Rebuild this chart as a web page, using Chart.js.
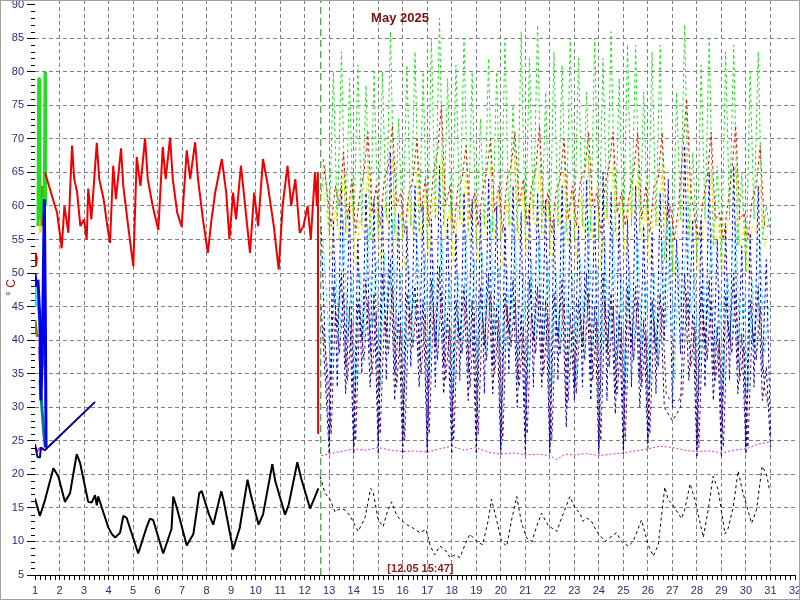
<!DOCTYPE html>
<html><head><meta charset="utf-8">
<script src="https://cdn.jsdelivr.net/npm/chart.js@4.4.0/dist/chart.umd.min.js"></script>
<style>html,body{margin:0;padding:0;background:#fff}#wrap{width:800px;height:600px;position:relative}</style>
</head><body><div id="wrap"><canvas id="c"></canvas></div>
<script>
// ---------- DATA ----------
const xTickLabels = [1,2,3,4,5,6,7,8,9,10,11,12,13,14,15,16,17,18,19,20,21,22,23,24,25,26,27,28,29,30,31,32];
const titleText = 'May 2025';
const unitText = '° C';
const nowText = '[12.05 15:47]';
const nowT = [12.657, 12.657];
const nowV = [5, 90.7];

// measured history (solid)
const redT = [1.41,1.65,1.90,2.09,2.20,2.36,2.51,2.60,2.72,2.85,
  3.00,3.11,3.17,3.30,3.52,3.62,3.80,3.95,4.06,4.19,
  4.30,4.51,4.60,4.80,5.01,5.15,5.30,5.49,5.60,5.80,
  6.03,6.21,6.33,6.51,6.62,6.80,6.98,7.19,7.33,7.53,
  7.65,7.85,8.05,8.20,8.35,8.62,8.80,8.93,9.08,9.20,
  9.40,9.60,9.77,9.94,10.10,10.30,10.50,10.74,10.94,11.10,
  11.30,11.45,11.62,11.80,11.95,12.12,12.25,12.42,12.50,12.54,
  12.55];
const redV = [65,62,59,53.7,60,56,69,64,62,57,
  58,55,62.6,58,69.4,64,61,57,54.5,66,
  61,68.6,63,57,51,67.3,63,70.1,64,60,
  56.4,68.8,64,70.2,64,59,56.9,68.3,64,69.5,
  64,58,53,58,62,67,62,55,62,58,
  66,59,53,62,57,67,63,57,50.5,60,
  66,60,64,56,57,60,55,65,60,65,
  26];
const blkT = [1.00,1.20,1.41,1.75,1.95,2.22,2.43,2.70,2.84,3.17,
  3.31,3.45,3.52,3.58,3.72,3.99,4.13,4.27,4.47,4.60,
  4.74,5.21,5.55,5.69,5.82,6.23,6.57,6.64,6.78,7.19,
  7.46,7.70,7.80,8.10,8.27,8.60,8.70,9.08,9.35,9.67,
  9.80,10.12,10.30,10.68,10.80,11.20,11.35,11.70,11.85,12.22,12.56];
const blkV = [16.4,13.8,16.2,20.9,19.7,15.9,17.2,23.0,21.7,15.9,
  15.8,16.9,15.4,16.7,15.1,12.1,11.1,10.6,11.3,13.8,
  13.5,8.2,12.1,13.4,13.2,8.2,11.9,16.7,15.1,9.4,
  11.1,17.2,17.5,14.0,12.5,17.5,16.0,8.8,12.0,19.2,
  17.0,12.5,14.0,21.5,19.0,14.0,15.5,21.8,19.5,14.9,17.9];
const hGreenT = [1.12,1.15,1.17,1.20,1.38,1.41,1.43];
const hGreenV = [57,79,79,58,62,80,60];
const hBlueT = [1.00,1.06,1.12,1.20,1.24,1.30,1.38,1.42,1.45];
const hBlueV = [50,48,49,43,31,38,61,45,24];
const hCyanT = [1.00,1.06,1.12,1.30,1.35];
const hCyanV = [48,45,46,38,36];
const hOliveT = [1.00,1.06,1.12,1.20,1.27,1.29];
const hOliveV = [43,41,40.5,null,63,57];
const hYellowT = [1.20,1.23];
const hYellowV = [58,56];
const hRedT = [1.00,1.04,1.08];
const hRedV = [53,51,52.5];
const hMaroonT = [1.20,1.24];
const hMaroonV = [39,34];
const hTealT = [1.20,1.28,1.36,1.42];
const hTealV = [34,30,26,24];
const hMagT = [1.00,1.08,1.16,1.24,1.30];
const hMagV = [24,23.4,23.8,24,23.6];
const hNavyT = [1.00,1.10,1.20,1.24,1.40,3.45];
const hNavyV = [24.5,22.6,22.5,24,23.6,30.8];

// forecast (dashed)
const fcT = [12.67,12.83,
  13.00,13.17,13.33,13.50,13.67,13.83, 14.00,14.17,14.33,14.50,14.67,14.83,
  15.00,15.17,15.33,15.50,15.67,15.83, 16.00,16.17,16.33,16.50,16.67,16.83,
  17.00,17.17,17.33,17.50,17.67,17.83, 18.00,18.17,18.33,18.50,18.67,18.83,
  19.00,19.17,19.33,19.50,19.67,19.83, 20.00,20.17,20.33,20.50,20.67,20.83,
  21.00,21.17,21.33,21.50,21.67,21.83, 22.00,22.17,22.33,22.50,22.67,22.83,
  23.00,23.17,23.33,23.50,23.67,23.83, 24.00,24.17,24.33,24.50,24.67,24.83,
  25.00,25.17,25.33,25.50,25.67,25.83, 26.00,26.17,26.33,26.50,26.67,26.83,
  27.00,27.17,27.33,27.50,27.67,27.83, 28.00,28.17,28.33,28.50,28.67,28.83,
  29.00,29.17,29.33,29.50,29.67,29.83, 30.00,30.17,30.33,30.50,30.67,30.83,
  31.00];
const fcT2 = [12.75,12.92,
  13.08,13.25,13.42,13.58,13.75,13.92, 14.08,14.25,14.42,14.58,14.75,14.92,
  15.08,15.25,15.42,15.58,15.75,15.92, 16.08,16.25,16.42,16.58,16.75,16.92,
  17.08,17.25,17.42,17.58,17.75,17.92, 18.08,18.25,18.42,18.58,18.75,18.92,
  19.08,19.25,19.42,19.58,19.75,19.92, 20.08,20.25,20.42,20.58,20.75,20.92,
  21.08,21.25,21.42,21.58,21.75,21.92, 22.08,22.25,22.42,22.58,22.75,22.92,
  23.08,23.25,23.42,23.58,23.75,23.92, 24.08,24.25,24.42,24.58,24.75,24.92,
  25.08,25.25,25.42,25.58,25.75,25.92, 26.08,26.25,26.42,26.58,26.75,26.92,
  27.08,27.25,27.42,27.58,27.75,27.92, 28.08,28.25,28.42,28.58,28.75,28.92,
  29.08,29.25,29.42,29.58,29.75,29.92, 30.08,30.25,30.42,30.58,30.75,30.92];
const greenV = [62,66,
  56,80,57,83,56,79, 55,81,57,78,55,80,
  56,80,58,86,56,73, 55,81,57,83,56,80,
  54,85,58,88,57,79, 55,81,58,85,56,80,
  54,73,57,82,56,80, 55,85,57,75,56,86,
  55,82,58,87,56,77, 54,83,57,81,56,85,
  55,82,57,77,56,85, 55,82,58,86,56,79,
  55,84,57,84,56,77, 55,83,57,84,52,62,
  50,77,58,87,55,68, 52,81,58,85,54,66,
  50,83,58,84,54,65, 50,80,58,83,55,60,
  56];
const blueV = [57,40,
  25,58,33,63,36,60, 24,55,35,62,38,61,
  25,60,34,68,35,59, 25,57,36,63,37,60,
  24,58,33,66,36,58, 25,56,34,62,35,61,
  25,59,32,64,36,60, 24,57,35,63,34,59,
  25,60,33,62,37,61, 24,58,34,63,30,58,
  33,57,33,64,35,60, 24,65,31,62,32,59,
  24,58,33,63,34,57, 25,56,32,62,40,64,
  30,55,38,69,42,58, 24,58,33,65,35,55,
  24,57,34,66,36,54, 24,56,33,63,35,52,
  26];
const navyV = [45,35,
  23,48,42,50,32,45, 23,46,40,49,33,47,
  23,50,41,52,31,44, 23,47,43,48,33,46,
  23,49,39,51,32,44, 23,46,40,48,31,46,
  23,48,39,50,32,45, 23,47,41,49,30,44,
  23,49,40,48,33,46, 23,47,40,49,27,44,
  31,46,39,50,31,45, 23,50,38,47,29,44,
  23,48,39,48,30,43, 24,46,38,47,30,29,
  28,29,30,50,34,44, 22.5,48,39,49,31,42,
  22.5,47,40,50,32,41, 23,46,39,48,31,36,
  24];
const yellowV = [63,58,
  52,60,55,65,54,62, 51,58,56,66,55,60,
  52,60,57,67,54,59, 51,61,56,65,55,62,
  52,62,58,68,55,60, 51,60,57,65,54,61,
  52,59,56,66,55,62, 51,61,57,67,54,63,
  52,62,56,66,55,61, 51,60,57,65,54,62,
  52,61,56,67,55,63, 51,60,57,66,54,61,
  52,62,58,65,55,60, 51,60,57,66,52,57,
  50,58,60,68,56,58, 50,57,58,65,54,58,
  50,58,57,66,54,57, 50,57,56,63,54,56];
const redFcV = [67,62,
  57,63,60,68,58,64, 56,62,65,71,59,63,
  57,64,66,72,60,62, 56,62,64,70,59,64,
  57,65,68,75,60,63, 56,63,64,69,58,62,
  57,62,65,70,59,63, 56,64,66,71,60,64,
  57,63,65,72,59,62, 56,62,64,70,58,63,
  57,64,65,71,60,62, 56,63,66,71,59,62,
  57,62,65,71,58,63, 56,63,64,71,58,60,
  55,60,68,76,62,58, 55,61,64,71,58,59,
  55,60,65,72,58,59, 55,61,63,69,57,57];
const cyanV = [55,45,
  33,52,38,58,40,50, 32,50,40,57,42,52,
  33,53,38,58,40,50, 32,51,39,56,41,53,
  33,52,37,57,40,50, 32,50,38,56,39,52,
  33,53,37,58,41,51, 32,51,39,57,38,50,
  33,52,38,56,40,52, 32,50,38,57,36,50,
  34,52,37,58,39,51, 32,55,36,57,37,50,
  32,51,37,56,38,49, 33,50,36,55,42,57,
  34,52,40,60,44,50, 32,51,37,57,38,48,
  32,50,38,58,39,47, 32,49,37,55,38,45];
const maroonV = [42,36,
  26,44,38,47,34,43, 25,45,37,46,35,44,
  26,43,38,48,33,42, 25,44,39,46,35,44,
  26,45,37,47,34,42, 25,43,38,46,33,44,
  26,44,37,47,35,43, 25,45,39,46,33,42,
  26,44,38,47,35,44, 25,43,38,46,31,42,
  32,44,37,47,34,43, 25,46,36,45,32,42,
  25,44,37,46,33,41, 26,43,36,45,32,31,
  31,31,32,47,36,42, 24,44,37,46,34,40,
  24,43,38,47,34,39, 24,42,37,45,33,30];
const magT = [12.67,13.2,13.6,14.0,14.5,15.0,15.5,16.0,16.5,17.0,17.5,18.0,18.5,19.0,19.5,20.0,20.5,21.0,21.5,22.0,22.3,22.6,23.0,23.5,24.0,24.5,25.0,25.5,26.0,26.5,27.0,27.5,28.0,28.5,29.0,29.5,30.0,30.5,30.97];
const magV = [22.8,23.2,23.5,23.8,23.6,24.0,23.6,23.4,23.5,23.3,23.8,24.2,23.6,24.0,23.3,23.0,23.2,22.9,23.0,22.8,22.2,23.0,22.9,23.1,22.8,23.0,23.2,23.5,23.8,24.2,24.0,23.6,23.4,23.5,23.2,23.6,23.8,24.5,24.8];
const blkFcT = [12.63,12.83,13.04,13.24,13.45,13.65,13.86,14.18,14.46,14.69,
  14.79,15.00,15.20,15.37,15.55,15.76,16.16,16.42,16.70,16.95,
  17.11,17.30,17.52,17.72,17.93,18.13,18.33,18.54,18.74,19.01,
  19.26,19.49,19.62,19.83,20.03,20.24,20.44,20.65,20.85,21.06,
  21.26,21.46,21.66,21.93,22.28,22.48,22.82,23.02,23.23,23.36,
  23.50,23.70,23.91,24.25,24.72,24.92,25.20,25.40,25.74,25.88,
  26.01,26.22,26.42,26.69,26.83,27.03,27.37,27.50,27.72,27.92,
  28.26,28.46,28.66,28.87,29.14,29.27,29.48,29.68,29.88,30.23,
  30.43,30.66,30.84,30.97];
const blkFcV = [19.7,17.2,16.2,14.4,14.9,14.7,13.8,11.5,13.5,17.9,
  17.4,13.2,12.2,14.4,15.9,13.8,12.5,12.0,11.3,11.8,
  9.5,8.0,9.3,8.8,7.6,8.0,7.6,9.5,11.1,10.0,
  9.5,13.2,16.3,13.2,10.0,9.3,13.2,16.7,12.7,10.5,
  10.0,12.2,14.2,12.4,11.5,13.5,16.7,15.0,14.2,13.0,
  13.5,13.0,11.5,10.0,11.3,10.0,9.3,10.0,13.2,11.3,
  9.5,7.8,9.5,18.1,16.2,15.4,13.4,14.7,18.6,16.2,
  10.6,14.7,19.7,17.7,11.1,11.9,15.1,20.5,17.2,12.7,
  14.7,21.2,20.0,17.5];

// ---------- CHART ----------
const FONT = '"Liberation Sans", Arial, sans-serif';
function ds(T, V, color, width, dash) {
  return { data: T.map((t, i) => ({ x: t, y: V[i] })), borderColor: color, borderWidth: width,
    borderDash: dash || [], showLine: true, pointRadius: 0, pointHoverRadius: 0, fill: false,
    tension: 0, borderJoinStyle: 'bevel', spanGaps: false };
}
const FD = [3, 3];
const datasets = [
  ds(nowT, nowV, '#1f7f1f', 1, [7, 4]),
  ds(blkT, blkV, '#000000', 2),
  ds(redT, redV, '#ee0000', 2),
  ds(hNavyT, hNavyV, '#000080', 2),
  ds(hBlueT, hBlueV, '#0000ee', 3),
  ds(hGreenT, hGreenV, '#22dd22', 3),
  ds(hCyanT, hCyanV, '#22e5f0', 3),
  ds(hTealT, hTealV, '#008080', 3),
  ds(hMaroonT, hMaroonV, '#800040', 3),
  ds(hMagT, hMagV, '#dd22dd', 2),
  ds(hOliveT, hOliveV, '#8b8000', 3),
  ds(hYellowT, hYellowV, '#eeee00', 3),
  ds(hRedT, hRedV, '#dd0000', 2),
  ds(blkFcT, blkFcV, '#000000', 1, FD),
  ds(magT, magV, '#cc33cc', 1, [2, 2]),
  ds(fcT, navyV, '#000080', 1, FD),
  ds(fcT2, maroonV, '#800040', 1, FD),
  ds(fcT, blueV, '#0000dd', 1, FD),
  ds(fcT2, cyanV, '#22ddee', 1, FD),
  ds(fcT2, redFcV, '#dd1100', 1, FD),
  ds(fcT2, yellowV, '#e8e800', 1, FD),
  ds(fcT, greenV, '#22dd22', 1, FD)
];

const decor = {
  id: 'decor',
  afterDraw(chart) {
    const { ctx, chartArea: a, scales: { x, y } } = chart;
    ctx.save();
    ctx.strokeStyle = '#000'; ctx.lineWidth = 1; ctx.setLineDash([]);
    ctx.beginPath();
    for (let v = 6; v <= 90; v++) {
      if (v % 5) { const py = Math.round(y.getPixelForValue(v)) + 0.5; ctx.moveTo(a.left - 4, py); ctx.lineTo(a.left, py); }
    }
    for (let i = 1; i < 155; i++) {
      if (i % 5) { const px = Math.round(x.getPixelForValue(1 + i / 5)) + 0.5; ctx.moveTo(px, a.bottom); ctx.lineTo(px, a.bottom + 5); }
    }
    ctx.stroke();
    ctx.fillStyle = '#7a0f0f'; ctx.textAlign = 'center'; ctx.textBaseline = 'middle';
    ctx.font = 'bold 13px ' + FONT;
    ctx.fillText(titleText, chart.width / 2, 18);
    ctx.fillStyle = '#8b1c1c'; ctx.font = 'bold 11px ' + FONT;
    ctx.fillText(nowText, x.getPixelForValue(16.72), a.bottom - 6);
    ctx.save();
    ctx.translate(a.left - 23, (a.top + a.bottom) / 2);
    ctx.rotate(-Math.PI / 2);
    ctx.fillStyle = '#a01010'; ctx.font = '12px ' + FONT;
    ctx.fillText(unitText, 0, 0);
    ctx.restore();
    ctx.strokeStyle = '#a0a0a0';
    ctx.strokeRect(0.5, 0.5, chart.width - 1, chart.height - 1);
    ctx.restore();
  }
};

const hide = 'rgba(0,0,0,0)';
new Chart(document.getElementById('c'), {
  type: 'scatter',
  data: { datasets },
  plugins: [decor],
  options: {
    responsive: true, maintainAspectRatio: false, animation: false,
    layout: { padding: { left: 0, right: 5, top: 0, bottom: 0 } },
    plugins: { legend: { display: false }, tooltip: { enabled: false }, title: { display: false } },
    scales: {
      x: {
        type: 'linear', min: 1, max: 32,
        afterFit(s) { s.height = 25; s.paddingLeft = 0; s.paddingRight = 0; },
        afterBuildTicks(s) { s.ticks = xTickLabels.map(v => ({ value: v })); },
        ticks: { stepSize: 1, autoSkip: false, maxRotation: 0, color: '#2b2b7a', padding: 4,
          font: { family: FONT, size: 11 }, callback: v => String(v) },
        grid: { color: c => (c.tick && (c.tick.value === 1 || c.tick.value === 32)) ? hide : '#808080',
          tickColor: '#000', tickLength: 5, tickBorderDash: [], lineWidth: 1 },
        border: { display: true, color: '#000', width: 1, dash: [4, 3] }
      },
      y: {
        min: 5, max: 90.7,
        afterFit(s) { s.width = 35; s.paddingTop = 0; s.paddingBottom = 0; },
        ticks: { stepSize: 5, includeBounds: false, color: '#2b2b7a', padding: 3,
          font: { family: FONT, size: 11 } },
        grid: { color: c => (c.tick && (c.tick.value === 90 || c.tick.value === 5)) ? hide : '#808080',
          tickColor: '#000', tickLength: 8, tickBorderDash: [], lineWidth: 1 },
        border: { display: false, dash: [4, 3] }
      }
    }
  }
});
</script></body></html>
